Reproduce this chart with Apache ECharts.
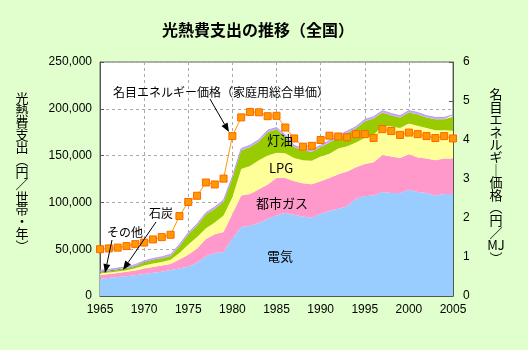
<!DOCTYPE html>
<html><head><meta charset="utf-8">
<script src="https://cdn.jsdelivr.net/npm/echarts@6/dist/echarts.min.js"></script>
<style>html,body{margin:0;padding:0;background:#E0FFCC}#c{width:528px;height:350px}</style>
</head><body><div id="c"></div>
<script>
const years = ['1965','1966','1967','1968','1969','1970','1971','1972','1973','1974','1975','1976','1977','1978','1979','1980','1981','1982','1983','1984','1985','1986','1987','1988','1989','1990','1991','1992','1993','1994','1995','1996','1997','1998','1999','2000','2001','2002','2003','2004','2005'];
const denki = [18500,19300,20200,21000,22200,23600,24800,26000,27700,29500,31500,35500,42500,46000,47000,61400,73700,75000,78000,82600,86000,89000,86500,85000,83700,88000,90800,93300,96000,104000,106500,107500,111000,110000,110000,113500,111000,110000,107400,109000,109000];
const toshiGas = [4000,4200,4400,4800,5100,5800,6200,6500,6600,9500,12500,15200,18500,20000,21400,26600,33700,34000,36000,36400,40000,37000,36000,35500,35800,34500,35200,36700,37000,33500,34500,35500,39700,39000,37500,38000,37000,37000,37600,38000,38000];
const lpg = [1500,1500,1600,1800,2300,3200,3600,3900,4300,7000,11000,12300,11500,12500,17600,17600,28400,30000,31000,31000,27000,26500,25000,24500,25000,26500,26000,27500,27000,26500,28000,29000,31300,32000,31900,32900,34000,32400,32000,30000,29600];
const touyu = [1000,1200,1300,1400,1700,2900,3400,3600,3700,7000,10500,12000,14500,14500,14500,19900,19700,20000,20000,25000,25000,17500,11500,10500,9500,10000,12000,12000,14000,15000,17500,17500,14000,12000,11200,11600,12000,11200,11800,11800,15000];
const sekitan = [1200,1100,1000,900,800,700,600,500,500,400,400,300,300,200,200,200,200,150,150,100,100,100,100,100,100,100,100,100,100,100,100,100,100,100,100,100,100,100,100,100,100];
const sonota = [1300,1100,1300,1300,1400,1300,1400,1300,1700,1600,1600,1700,1700,1800,1800,1800,1800,1850,1850,1900,1900,1900,1900,1900,1900,1900,1900,1900,1900,1900,1900,1900,1900,1900,1900,1900,1900,1900,1900,1900,1900];
const price = [1.20,1.22,1.24,1.28,1.33,1.37,1.45,1.51,1.57,2.05,2.41,2.57,2.91,2.86,3.01,4.10,4.58,4.72,4.71,4.61,4.62,4.32,4.04,3.83,3.85,4.00,4.11,4.09,4.07,4.15,4.15,4.05,4.28,4.23,4.13,4.19,4.15,4.10,4.05,4.10,4.04];

const JP = '"Noto Sans CJK JP", sans-serif';
const NUM = '"Liberation Sans", Arial, sans-serif';

function area(name, data, color, lw, lc) {
  return {
    name, type: 'line', stack: 'total', data, symbol: 'none', smooth: false,
    areaStyle: { color, opacity: 1 },
    lineStyle: { width: lw || 0, color: lc || color },
    itemStyle: { color },
    emphasis: { disabled: true }, z: 2
  };
}

function arrow(x1, y1, x2, y2) {
  const dx = x2 - x1, dy = y2 - y1, L = Math.sqrt(dx*dx + dy*dy);
  const ux = dx / L, uy = dy / L, hl = 9, hw = 3.5;
  const bx = x2 - ux*hl, by = y2 - uy*hl;
  return [
    { type: 'line', shape: { x1, y1, x2: bx, y2: by }, style: { stroke: '#000', lineWidth: 1 }, z: 100 },
    { type: 'polygon', shape: { points: [[x2, y2], [bx - uy*hw, by + ux*hw], [bx + uy*hw, by - ux*hw]] }, style: { fill: '#000' }, z: 100 }
  ];
}

function txt(x, y, text, size, opts) {
  return Object.assign({ type: 'text', x, y, z: 100,
    style: Object.assign({ text, font: (size) + 'px ' + JP, fill: '#000', align: 'center', verticalAlign: 'middle' }, opts || {}) });
}

const chart = echarts.init(document.getElementById('c'));
chart.setOption({
  backgroundColor: '#E0FFCC',
  animation: false,
  grid: { left: 100, right: 75, top: 62, bottom: 54, show: true, backgroundColor: '#FFFFFF', borderColor: '#666', borderWidth: 1 },
  xAxis: {
    type: 'category', data: years, boundaryGap: false,
    axisLine: { lineStyle: { color: '#555' } },
    axisTick: { inside: true, length: 4, interval: 4, lineStyle: { color: '#555' } },
    axisLabel: { interval: 4, color: '#000', fontFamily: NUM, fontSize: 12, margin: 8 },
    splitLine: { show: true, interval: 4, lineStyle: { color: '#AAAAAA', type: [3, 3] } }
  },
  yAxis: [
    { type: 'value', min: 0, max: 250000, interval: 50000,
      axisLine: { show: true, lineStyle: { color: '#555' } },
      axisTick: { show: true, inside: true, length: 4, lineStyle: { color: '#555' } },
      axisLabel: { color: '#000', fontFamily: NUM, fontSize: 12, margin: 8, formatter: v => v.toLocaleString('en-US') },
      splitLine: { show: true, lineStyle: { color: '#AAAAAA', type: [3, 3] } } },
    { type: 'value', min: 0, max: 6, interval: 1, position: 'right',
      axisLine: { show: true, lineStyle: { color: '#555' } },
      axisTick: { show: true, inside: true, length: 4, lineStyle: { color: '#555' } },
      axisLabel: { color: '#000', fontFamily: NUM, fontSize: 12, margin: 10 },
      splitLine: { show: false } }
  ],
  series: [
    area('電気', denki, '#99CCFF'),
    area('都市ガス', toshiGas, '#FF99CC'),
    area('LPG', lpg, '#FFFF99'),
    area('灯油', touyu, '#99CC00'),
    area('石炭', sekitan, '#669933'),
    area('その他', sonota, '#CCAAFF', 1, '#BB99EE'),
    { name: '名目エネルギー価格', type: 'line', yAxisIndex: 1, data: price,
      symbol: 'rect', symbolSize: 7, showAllSymbol: true,
      lineStyle: { color: '#FF9900', width: 1 },
      itemStyle: { color: '#FF9900', borderColor: '#FF6600', borderWidth: 1 },
      emphasis: { disabled: true }, z: 5 }
  ],
  graphic: [
    txt(258, 30, '光熱費支出の推移（全国）', 16, { font: 'bold 16px ' + JP }),
    txt(22, 172, '光\n熱\n費\n支\n出\n︵\n円\n／\n世\n帯\n・\n年\n︶', 13, { lineHeight: 12.3 }),
    txt(496, 176, '名\n目\nエ\nネ\nル\nギ\n｜\n価\n格\n︵\n円\n／\nMJ\n︶', 13, { lineHeight: 12.6 }),
    txt(221, 92, '名目エネルギー価格（家庭用総合単価）', 12),
    txt(161, 213, '石炭', 12),
    txt(125, 232, 'その他', 12),
    txt(280, 140, '灯油', 13),
    txt(281, 168, 'LPG', 13),
    txt(282, 203, '都市ガス', 13),
    txt(280, 256, '電気', 13),
    ...arrow(210, 99, 229, 132),
    ...arrow(156, 222, 123, 270),
    ...arrow(112, 240, 105, 273)
  ]
});
</script></body></html>
